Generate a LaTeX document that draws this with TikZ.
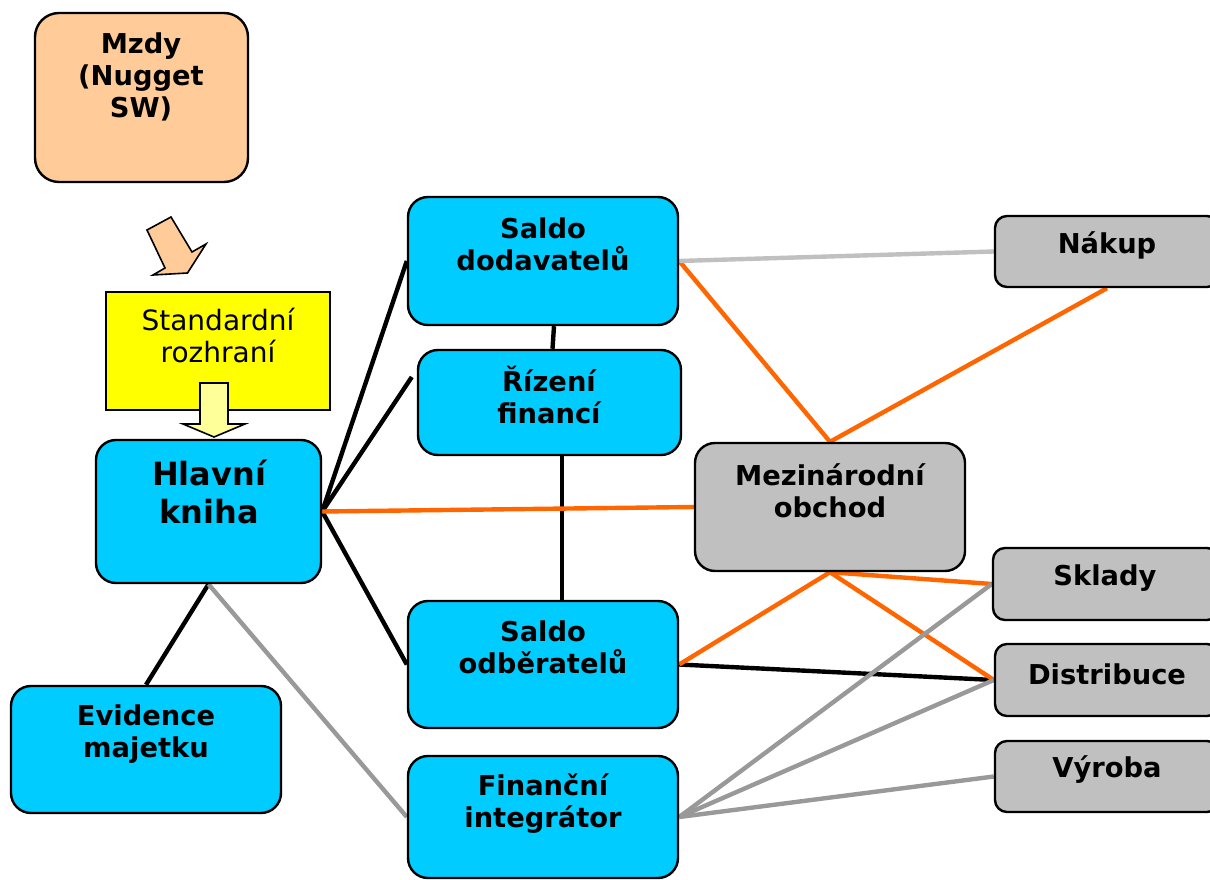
\documentclass[tikz,border=0pt]{standalone}
\usepackage{fontspec}
\setmainfont{DejaVu Sans}
\usetikzlibrary{backgrounds,calc,fit}
\definecolor{cyanbox}{HTML}{00CCFF}
\definecolor{peach}{HTML}{FFCC99}
\definecolor{graybox}{HTML}{C0C0C0}
\definecolor{orangeln}{HTML}{FF6600}
\definecolor{silverln}{HTML}{C0C0C0}
\definecolor{grayln}{HTML}{999999}
\definecolor{yelbox}{HTML}{FFFF00}
\definecolor{lightyel}{HTML}{FFFF99}
\begin{document}
\begin{tikzpicture}[x=0.75pt,y=-0.75pt,
  box/.style={draw=black, line width=1.8pt, rounded corners=15pt, inner sep=0pt},
  bluebox/.style={box, fill=cyanbox},
  sidebox/.style={box, fill=graybox, rounded corners=9pt},
  lbl/.style={align=center, inner sep=0pt, font=\bfseries\fontsize{20.5}{24}\selectfont},
  blackln/.style={draw=black, line width=3.3pt},
  orangeline/.style={draw=orangeln, line width=3.3pt},
  silverline/.style={draw=silverln, line width=3.3pt},
  grayline/.style={draw=grayln, line width=3.3pt}]
\useasboundingbox (0,0) rectangle (1210,880);
\clip (0,0) rectangle (1210,880);

% boxes
\node[box, fill=peach, rounded corners=18pt, fit={(35,13) (248,182)}] (mz) {};
\node[lbl] (mzt) at (141,77) {Mzdy\\(Nugget\\SW)};

\node[draw=black, line width=1.8pt, fill=yelbox, inner sep=0pt, fit={(106,292) (330,410)}] (sr) {};
\node[align=center, inner sep=0pt, font=\fontsize{21}{24}\selectfont] (srt) at (218,336) {Standardní\\rozhraní};

\node[bluebox, fit={(96,440) (321,583)}] (hk) {};
\node[lbl, font=\bfseries\fontsize{24}{28.5}\selectfont] (hkt) at (209,492) {Hlavní\\kniha};

\node[bluebox, fit={(408,197) (678,325)}] (sd) {};
\node[lbl] (sdt) at (543,244) {Saldo\\dodavatelů};

\node[bluebox, fit={(418,350) (681,455)}] (rf) {};
\node[lbl] (rft) at (549,395) {Řízení\\financí};

\node[box, fill=graybox, fit={(695,443) (965,571)}] (mo) {};
\node[lbl] (mot) at (830,491) {Mezinárodní\\obchod};

\node[bluebox, fit={(408,601) (678,728)}] (so) {};
\node[lbl] (sot) at (543,647) {Saldo\\odběratelů};

\node[bluebox, fit={(11,686) (281,813)}] (ev) {};
\node[lbl] (evt) at (146,734) {Evidence\\majetku};

\node[bluebox, fit={(408,756) (678,878)}] (fi) {};
\node[lbl] (fit) at (543,804) {Finanční\\integrátor};

\node[sidebox, fit={(995,216) (1219,287)}] (nk) {};
\node[lbl] (nkt) at (1107,245) {Nákup};
\node[sidebox, fit={(993,548) (1219,620)}] (sk) {};
\node[lbl] (skt) at (1105,578) {Sklady};
\node[sidebox, fit={(995,644) (1219,716)}] (di) {};
\node[lbl] (dit) at (1107,674) {Distribuce};
\node[sidebox, fit={(995,741) (1219,812)}] (vy) {};
\node[lbl] (vyt) at (1107,770) {Výroba};

% block arrows
\filldraw[fill=peach, draw=black, line width=1.2pt, line join=miter]
  (147,230) -- (171,217) -- (192,252) -- (206,244) -- (187.5,273) -- (153,275) -- (165,268) -- cycle;
\filldraw[fill=lightyel, draw=black, line width=1.2pt, line join=miter]
  (200,383) -- (228,383) -- (228,424) -- (245,424) -- (214,437) -- (183,424) -- (200,424) -- cycle;

% connectors
\begin{pgfonlayer}{background}
\fill[white] (0,0) rectangle (1210,880);
\draw[blackln] (hk.east) -- (sd.west);
\draw[blackln] (hk.east) -- ($(rf.west)+(-5,-25.5)$);
\draw[blackln] (hk.east) -- (so.west);
\draw[blackln] (hk.south) -- (ev.north);
\draw[blackln] ($(sd.south)+(11,0)$) -- ($(rf.north)+(3,0)$);
\draw[blackln] ($(rf.south)+(12.5,0)$) -- ($(so.north)+(19,0)$);
\draw[blackln] (so.east) -- (di.west);

\draw[orangeline] (hk.east) -- (mo.west);
\draw[orangeline] (sd.east) -- (mo.north);
\draw[orangeline] (nk.south) -- (mo.north);
\draw[orangeline] (mo.south) -- (so.east);
\draw[orangeline] (mo.south) -- (sk.west);
\draw[orangeline] (mo.south) -- (di.west);

\draw[silverline] (sd.east) -- (nk.west);

\draw[grayline] (hk.south) -- (fi.west);
\draw[grayline] (fi.east) -- (sk.west);
\draw[grayline] (fi.east) -- (di.west);
\draw[grayline] (fi.east) -- (vy.west);
\end{pgfonlayer}
\end{tikzpicture}
\end{document}
